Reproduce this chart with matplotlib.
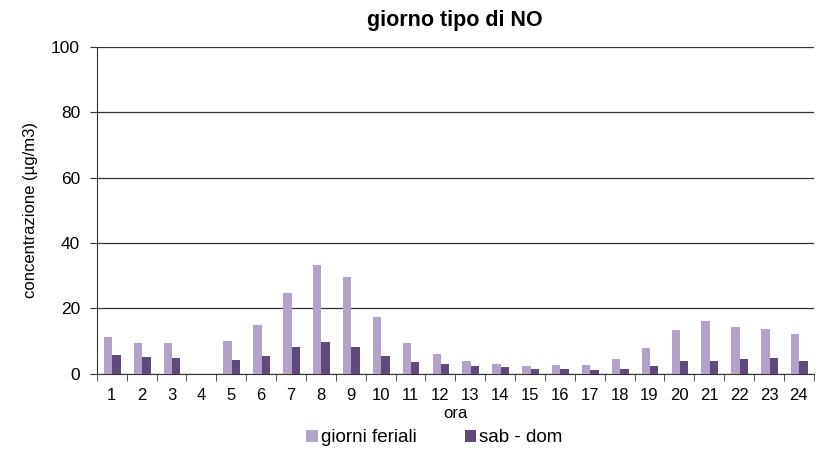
import numpy as np
import matplotlib.pyplot as plt

plt.rcParams['font.family'] = ['Liberation Sans', 'DejaVu Sans']

# ── Data ──────────────────────────────────────────────────────────────────────
ore = list(range(1, 25))
feriali = [11.2, 9.5, 9.5, np.nan, 10.1, 15.0, 24.7, 33.3, 29.7, 17.3, 9.5, 6.2,
           4.0, 3.1, 2.4, 2.7, 2.7, 4.5, 8.0, 13.3, 16.2, 14.4, 13.8, 12.1]
sab_dom = [5.7, 5.1, 4.8, np.nan, 4.3, 5.4, 8.3, 9.8, 8.3, 5.4, 3.6, 2.9,
           2.4, 2.1, 1.5, 1.5, 1.2, 1.5, 2.4, 4.0, 4.0, 4.5, 4.8, 4.0]

C_FER = '#B3A2C7'
C_SAB = '#604A7B'

# ── Plot ──────────────────────────────────────────────────────────────────────
fig = plt.figure(figsize=(8.27, 4.51), dpi=100)
ax = fig.add_axes([0.117, 0.171, 0.867, 0.725])

x = np.arange(len(ore))
w = 0.28
ax.bar(x - w / 2 + 0.02, feriali, width=w, color=C_FER, label='giorni feriali', zorder=3)
ax.bar(x + w / 2 + 0.02, sab_dom, width=w, color=C_SAB, label='sab - dom', zorder=3)

ax.set_xlim(-0.5, len(ore) - 0.5)
ax.set_ylim(0, 100)
ax.set_yticks(range(0, 101, 20))
ax.yaxis.grid(True, color='#333333', linewidth=0.9, zorder=0)

ax.set_xticks(x)
ax.set_xticklabels([str(o) for o in ore])
ax.set_xticks(np.arange(-0.5, len(ore), 1), minor=True)
ax.tick_params(axis='x', which='major', length=0, labelsize=12, pad=10.5)
ax.tick_params(axis='x', which='minor', length=5, direction='out', color='#333333')
ax.tick_params(axis='y', labelsize=12.5, length=5, pad=7, color='#333333')

for side in ['top', 'right']:
    ax.spines[side].set_visible(False)
for side in ['left', 'bottom']:
    ax.spines[side].set_color('#333333')

ax.set_title('giorno tipo di NO', fontsize=15.5, fontweight='bold', pad=15)
ax.set_ylabel('concentrazione (µg/m3)', fontsize=12)
ax.yaxis.set_label_coords(-0.082, 0.5)
ax.set_xlabel('ora', fontsize=12, labelpad=1.5)

ax.legend(loc='center', bbox_to_anchor=(0.471, -0.196), ncol=2, frameon=False,
          fontsize=13.5, handlelength=0.6, handleheight=0.6, handletextpad=0.15,
          columnspacing=2.6)

plt.savefig('out.png', dpi=100)
plt.close()
